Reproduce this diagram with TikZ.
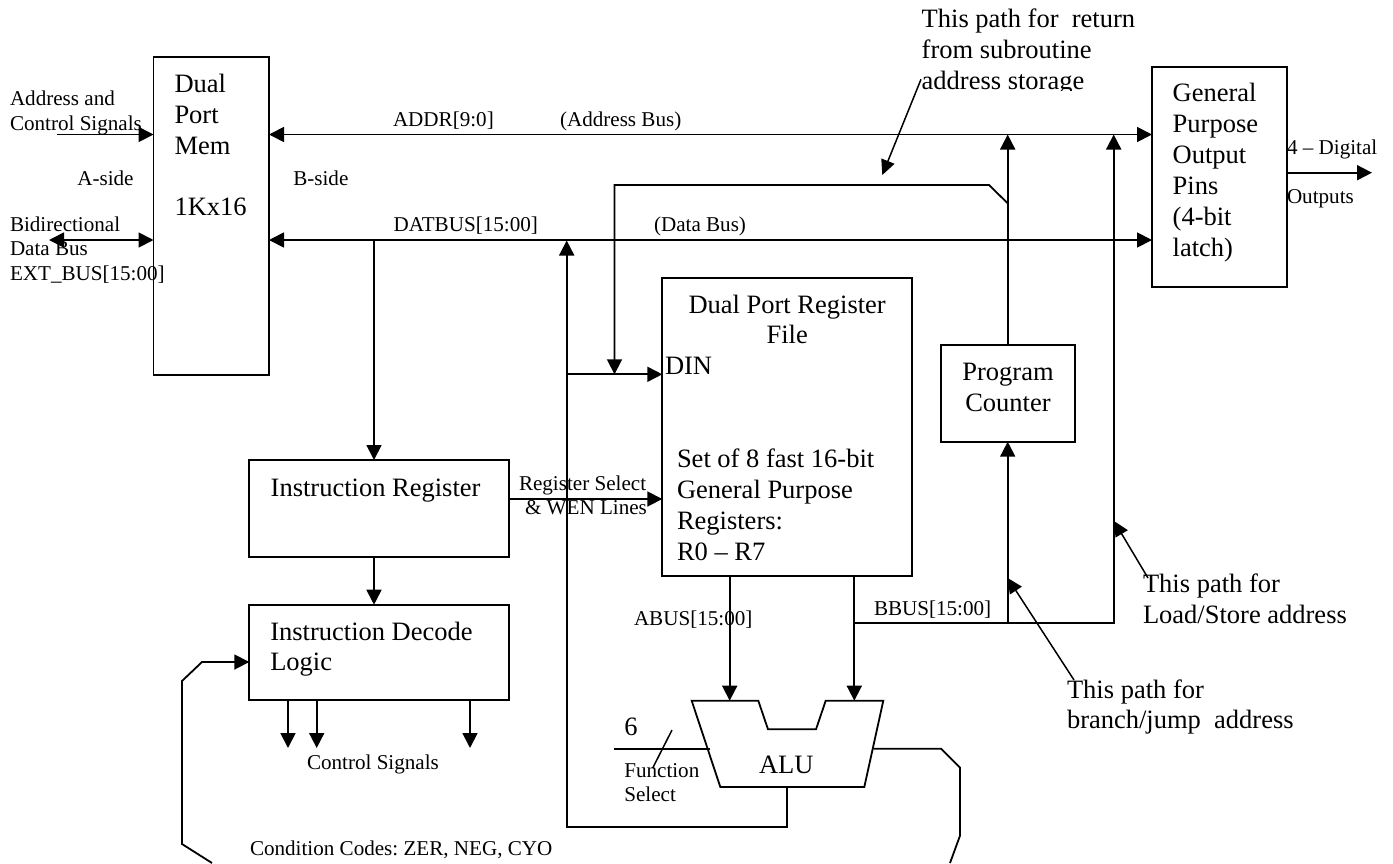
\documentclass[tikz,border=0pt]{standalone}
\usepackage{fontspec}
\setmainfont{Liberation Serif}
\usetikzlibrary{arrows.meta}
\frenchspacing
\newcommand{\smallf}{\fontsize{21.1}{24.3}\selectfont}
\newcommand{\bigf}{\fontsize{26.5}{30.9}\selectfont}
% box content: width, height, distance from top to first baseline, left pad, text
\newcommand{\bxt}[5]{\begin{minipage}[t][#2pt][t]{#1pt}\bigf\raggedright\leftskip=#4pt\relax\parindent=0pt
\vspace*{\dimexpr#3pt-21.63pt\relax}\strut #5\end{minipage}}
\tikzset{
  box/.style={draw,line width=1.8pt,inner sep=0pt,outer sep=0pt,anchor=north west},
  wire/.style={line width=1.8pt,line join=miter},
  arr/.style={wire,-{Triangle[length=15pt,width=15pt]}},
  darr/.style={wire,{Triangle[length=15pt,width=15pt]}-{Triangle[length=15pt,width=15pt]}},
  lbl/.style={inner sep=0pt,outer sep=0pt,anchor=base west,font=\smallf,align=left},
  lblb/.style={lbl,font=\bigf},
  ptr/.style={line width=1.5pt,-{Triangle[length=15pt,width=14pt]}}
}
\begin{document}
\begin{tikzpicture}[x=1pt,y=-1pt]
\useasboundingbox (0,0) rectangle (1393,863);
% boxes
\node[box] (mem) at (153.5,57) {\bxt{115.5}{318}{35.3}{21}{Dual\\Port\\Mem\\[30.9pt]1Kx16}};
\node[box] (gen) at (1152,67) {\bxt{134.7}{220}{34.7}{20.7}{General\\Purpose\\Output\\Pins\\(4-bit\\latch)}};
\node[box] (reg) at (662.3,278.3) {\bxt{249.7}{297.5}{34.7}{0}{\makebox[249.7pt]{Dual Port Register}\\\makebox[249.7pt]{File}\\\hspace*{2.7pt}DIN\\[61.8pt]\hspace*{14.7pt}Set of 8 fast 16-bit\\\hspace*{14.7pt}General Purpose\\\hspace*{14.7pt}Registers:\\\hspace*{14.7pt}R0 – R7}};
\node[box] (pc) at (940.7,345.3) {\bxt{134.6}{96.4}{35.4}{0}{\makebox[134.6pt]{Program}\\\makebox[134.6pt]{Counter}}};
\node[box] (ir) at (249.3,460) {\bxt{259.5}{96.7}{36.7}{21.4}{Instruction Register}};
\node[box] (dec) at (249.3,604.7) {\bxt{259.5}{95.3}{35.3}{21}{Instruction Decode\\Logic}};
% ALU outline
\coordinate (aluTL) at (691.7,700.7);
\coordinate (aluN1) at (758.3,700.7);
\coordinate (aluN2) at (768,729.3);
\coordinate (aluN3) at (816,729.3);
\coordinate (aluN4) at (825.7,700.7);
\coordinate (aluTR) at (883.3,700.7);
\coordinate (aluBR) at (864.3,787);
\coordinate (aluBL) at (720.3,787);
\draw[wire] (aluTL) -- (aluN1) -- (aluN2) -- (aluN3) -- (aluN4) -- (aluTR) -- (aluBR) -- (aluBL) -- cycle;
\node[lblb] (alu) at (759,773.3) {ALU};
% junctions and free ends
\coordinate (addrL) at (mem.east |- 0,134.5);
\coordinate (addrR) at (gen.west |- 0,134.5);
\coordinate (datL) at (mem.east |- 0,240);
\coordinate (datR) at (gen.west |- 0,240);
\coordinate (aIn) at (57.3,134.5);
\coordinate (aInE) at (mem.west |- 0,134.5);
\coordinate (bIn) at (49,240);
\coordinate (bInE) at (mem.west |- 0,240);
\coordinate (irTap) at (374,240);
\coordinate (irTop) at (374,460);
\coordinate (irBot) at (374,556.7);
\coordinate (decTop) at (374,604.7);
\coordinate (busTap) at (566.7,240.5);
\coordinate (busCorner) at (566.7,827);
\coordinate (aluOutB) at (787,787);
\coordinate (aluOutC) at (787,827);
\coordinate (dinJ) at (566.7,374.3);
\coordinate (dinE) at (662.3,374.3);
\coordinate (retA) at (1007.7,203.3);
\coordinate (retB) at (989,185);
\coordinate (retC) at (614.5,185);
\coordinate (retD) at (614.5,374.3);
\coordinate (pcTop) at (1007.7,345.3);
\coordinate (pcBus) at (1007.7,134.5);
\coordinate (pcBot) at (1007.7,441.7);
\coordinate (bbPc) at (1007.7,623.3);
\coordinate (bbLs) at (1113.7,623.3);
\coordinate (lsBus) at (1113.7,134.5);
\coordinate (bbStart) at (854.3,623.3);
\coordinate (regB) at (854.3,575.8);
\coordinate (regA) at (729.7,575.8);
\coordinate (aluA) at (729.7,700.7);
\coordinate (aluB) at (854.3,700.7);
\coordinate (irOut) at (508.8,499);
\coordinate (regSel) at (662.3,499);
\coordinate (dig1) at (1286.7,172.7);
\coordinate (dig2) at (1372,172.7);
\coordinate (d1a) at (288,700);\coordinate (d1b) at (288,748);
\coordinate (d2a) at (316.7,700);\coordinate (d2b) at (316.7,748);
\coordinate (d3a) at (470,700);\coordinate (d3b) at (470,748);
% wires
\draw[darr] (addrL) -- (addrR);
\draw[darr] (datL) -- (datR);
\draw[arr] (aIn) -- (aInE);
\draw[darr] (bIn) -- (bInE);
\draw[arr] (irTap) -- (irTop);
\draw[arr] (irBot) -- (decTop);
\draw[arr] (aluOutB) -- (aluOutC) -- (busCorner) -- (busTap);
\draw[arr] (dinJ) -- (dinE);
\draw[arr] (retA) -- (retB) -- (retC) -- (retD);
\draw[arr] (pcTop) -- (pcBus);
\draw[arr] (bbPc) -- (pcBot);
\draw[arr] (bbStart) -- (bbLs) -- (lsBus);
\draw[arr] (regB) -- (aluB);
\draw[arr] (regA) -- (aluA);
\draw[arr] (irOut) -- (regSel);
\draw[arr] (dig1) -- (dig2);
\draw[arr] (d1a) -- (d1b);
\draw[arr] (d2a) -- (d2b);
\draw[arr] (d3a) -- (d3b);
% function select
\coordinate (fsA) at (614.3,748.7);\coordinate (fsB) at (710,748.7);
\draw[wire] (fsA) -- (fsB);
\coordinate (slA) at (672,730);\coordinate (slB) at (652.7,768);
\draw[line width=1.5pt] (slA) -- (slB);
% flag / feedback
\coordinate (o1) at (873.3,748.7);\coordinate (o2) at (941,748.7);\coordinate (o3) at (960,767.7);\coordinate (o4) at (960,835.7);\coordinate (o5) at (950,863);
\draw[wire] (o1) -- (o2) -- (o3) -- (o4) -- (o5);
\coordinate (f1) at (212,863);\coordinate (f2) at (182,844);\coordinate (f3) at (182,681);\coordinate (f4) at (202,662);\coordinate (f5) at (249.3,662);
\draw[arr] (f1) -- (f2) -- (f3) -- (f4) -- (f5);
% labels
\node[lbl] (t1) at (10,105.7) {Address and};
\node[lbl] (t1b) at (10,130) {Control Signals};
\node[lbl] (t2) at (77.3,185.7) {A-side};
\node[lbl] (t3) at (293.3,185.7) {B-side};
\node[lbl] (t4) at (10,231) {Bidirectional};
\node[lbl] (t4b) at (10,255) {Data Bus};
\node[lbl] (t4c) at (10,280) {EXT\_BUS[15:00]};
\node[lbl] (t5) at (393,126.7) {ADDR[9:0]};
\node[lbl] (t6) at (560,126.7) {(Address Bus)};
\node[lbl] (t7) at (393.7,231.7) {DATBUS[15:00]};
\node[lbl] (t8) at (654,231.7) {(Data Bus)};
\node[lblb] (n1) at (921.7,27.3) {This path for~ return};
\node[lblb] (n1b) at (921.7,58.3) {from subroutine};
\node[lblb] (n1c) at (921.7,89) {address storage};
\fill[white] (915,90.7) rectangle (1100,99);
\node[lbl] (t9) at (1287,154) {4 – Digital};
\node[lbl] (t10) at (1287,203.3) {Outputs};
\node[lbl] (t11) at (519,490) {Register Select};
\node[lbl] (t11b) at (525,514) {\& WEN Lines};
\node[lbl] (t12) at (634,625.7) {ABUS[15:00]};
\node[lbl] (t13) at (874,615) {BBUS[15:00]};
\node[lblb] (t14) at (624.3,735.7) {6};
\node[lbl] (t15) at (624.3,777.3) {Function};
\node[lbl] (t15b) at (624.3,801.7) {Select};
\node[lbl] (t16) at (307,769) {Control Signals};
\node[lbl] (t17) at (250,855) {Condition Codes: ZER, NEG, CYO};
\node[lblb] (n2) at (1143,592) {This path for};
\node[lblb] (n2b) at (1143,623) {Load/Store address};
\node[lblb] (n3) at (1067,698) {This path for};
\node[lblb] (n3b) at (1067,728) {branch/jump~ address};
% pointers
\coordinate (p1a) at (921,79.3);\coordinate (p1b) at (882.3,175);
\draw[ptr] (p1a) -- (p1b);
\coordinate (p2a) at (1148,578);\coordinate (p2b) at (1114,521);
\draw[ptr] (p2a) -- (p2b);
\coordinate (p3a) at (1074,680);\coordinate (p3b) at (1007.7,578);
\draw[ptr] (p3a) -- (p3b);
\end{tikzpicture}
\end{document}
